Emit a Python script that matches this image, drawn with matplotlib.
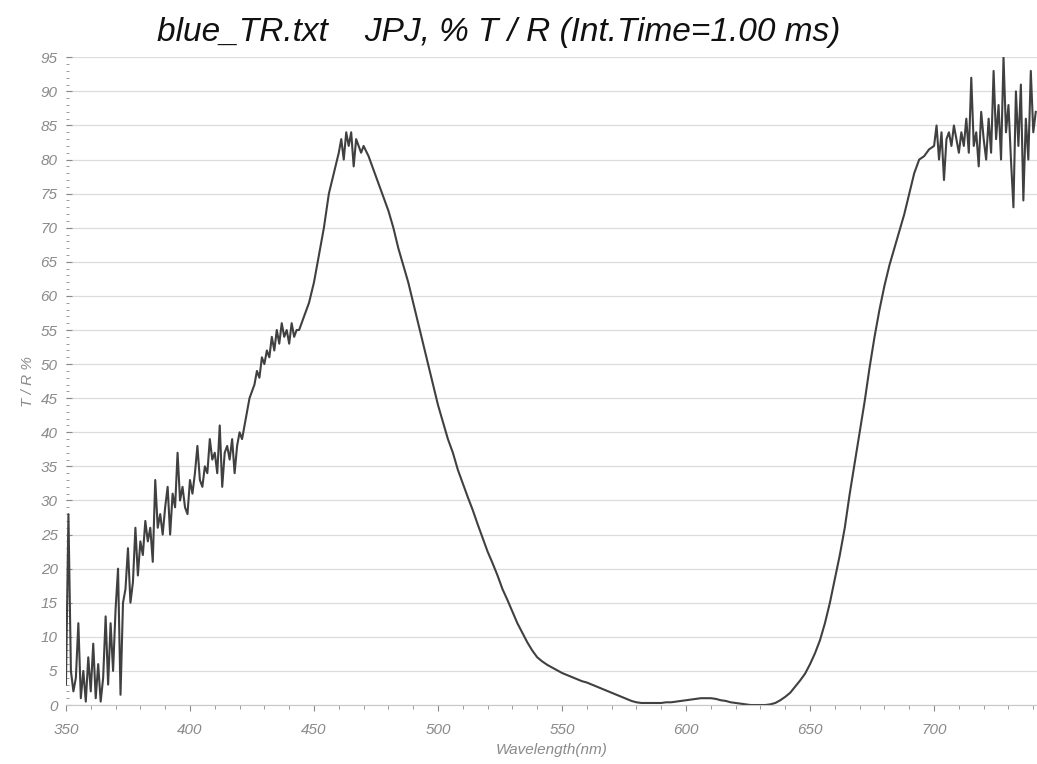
"""Transmission spectrum of blue_TR.txt, redrawn from a scanned print."""

import matplotlib

matplotlib.use("Agg")
import matplotlib.pyplot as plt  # noqa: E402
from matplotlib.ticker import MultipleLocator  # noqa: E402

# ---- data ----
# noisy blue edge, 1 nm steps
wl_blue = list(range(350, 445))
tr_blue = [
    3, 28, 5, 2, 4, 12, 1, 5, 0.5, 7,
    2, 9, 1, 6, 0.5, 4, 13, 3, 12, 5,
    14, 20, 1.5, 15, 17, 23, 15, 18, 26, 19,
    24, 22, 27, 24, 26, 21, 33, 26, 28, 25,
    29, 32, 25, 31, 29, 37, 30, 32, 29, 28,
    33, 31, 34, 38, 33, 32, 35, 34, 39, 36,
    37, 34, 41, 32, 37, 38, 36, 39, 34, 38,
    40, 39, 41, 43, 45, 46, 47, 49, 48, 51,
    50, 52, 51, 54, 52, 55, 53, 56, 54, 55,
    53, 56, 54, 55, 55,
]

# steep rise and the noisy top of the peak
wl_peak = [446, 448, 450, 452, 454, 456, 458, 460, 461, 462, 463, 464,
           465, 466, 467, 468, 469]
tr_peak = [57, 59, 62, 66, 70, 75, 78, 81, 83, 80, 84, 82,
           84, 79, 83, 82, 81]

# smooth stop band, 2 nm steps
wl_band = list(range(470, 700, 2))
tr_band = [
    82, 80.5, 78.5, 76.5, 74.5, 72.5, 70, 67, 64.5, 62,
    59, 56, 53, 50, 47, 44, 41.5, 39, 37, 34.5,
    32.5, 30.5, 28.6, 26.5, 24.5, 22.5, 20.8, 19, 17, 15.4,
    13.7, 12, 10.6, 9.2, 8, 7, 6.4, 5.9, 5.5, 5.1,
    4.7, 4.4, 4.1, 3.8, 3.5, 3.3, 3, 2.7, 2.4, 2.1,
    1.8, 1.5, 1.2, 0.9, 0.6, 0.4, 0.3, 0.3, 0.3, 0.3,
    0.3, 0.4, 0.4, 0.5, 0.6, 0.7, 0.8, 0.9, 1, 1,
    1, 0.9, 0.7, 0.6, 0.4, 0.3, 0.2, 0.1, 0, 0,
    0, 0, 0.1, 0.3, 0.7, 1.2, 1.8, 2.7, 3.6, 4.6,
    6, 7.6, 9.5, 12, 15, 18.5, 22, 26, 31, 35.5,
    40, 44.5, 49.5, 54, 58, 61.5, 64.5, 67, 69.5, 72,
    75, 78, 80, 80.5, 81.5,
]

# noisy red edge, 1 nm steps
wl_red = list(range(700, 742))
tr_red = [
    82, 85, 80, 84, 77, 83, 84, 82, 85, 83,
    81, 84, 82, 86, 81, 92, 82, 84, 79, 87,
    83, 80, 86, 81, 93, 83, 88, 80, 95, 84,
    88, 80, 73, 90, 82, 91, 74, 86, 80, 93,
    84, 87,
]

wavelength = wl_blue + wl_peak + wl_band + wl_red
tr_percent = tr_blue + tr_peak + tr_band + tr_red

TITLE = "blue_TR.txt    JPJ, % T / R (Int.Time=1.00 ms)"
GREY = "#8a8a8a"

plt.rcParams["font.family"] = ["Liberation Sans", "DejaVu Sans"]

fig = plt.figure(figsize=(10.37, 7.64), dpi=100)
ax = fig.add_axes([0.0636, 0.0772, 0.9364, 0.8478])

ax.plot(wavelength, tr_percent, color="#404040", lw=1.5)

ax.set_xlim(350, 741.5)
ax.set_ylim(0, 95)

ax.xaxis.set_major_locator(MultipleLocator(50))
ax.xaxis.set_minor_locator(MultipleLocator(10))
ax.yaxis.set_major_locator(MultipleLocator(5))
ax.yaxis.set_minor_locator(MultipleLocator(1))

ax.grid(axis="y", which="major", color="#dcdcdc", lw=0.9)
for side in ("top", "right", "left"):
    ax.spines[side].set_visible(False)
ax.spines["bottom"].set_color("#c8c8c8")

ax.tick_params(axis="both", which="both", colors=GREY, labelcolor=GREY)
ax.tick_params(axis="y", which="major", length=4, direction="in", pad=6)
ax.tick_params(axis="y", which="minor", length=2, direction="in")
ax.tick_params(axis="x", which="major", length=4, pad=9)
ax.tick_params(axis="x", which="minor", length=3)
for lbl in ax.get_xticklabels() + ax.get_yticklabels():
    lbl.set_fontstyle("italic")
    lbl.set_fontsize(11)

ax.set_xlabel("Wavelength(nm)", color=GREY, fontsize=11, fontstyle="italic",
              labelpad=4)
ax.set_ylabel("T / R %", color=GREY, fontsize=11, fontstyle="italic",
              labelpad=4)

fig.text(0.481, 0.957, TITLE, ha="center", va="center", fontsize=24,
         fontstyle="italic", color="#111111")

fig.savefig("out.png", dpi=100)
plt.close(fig)
